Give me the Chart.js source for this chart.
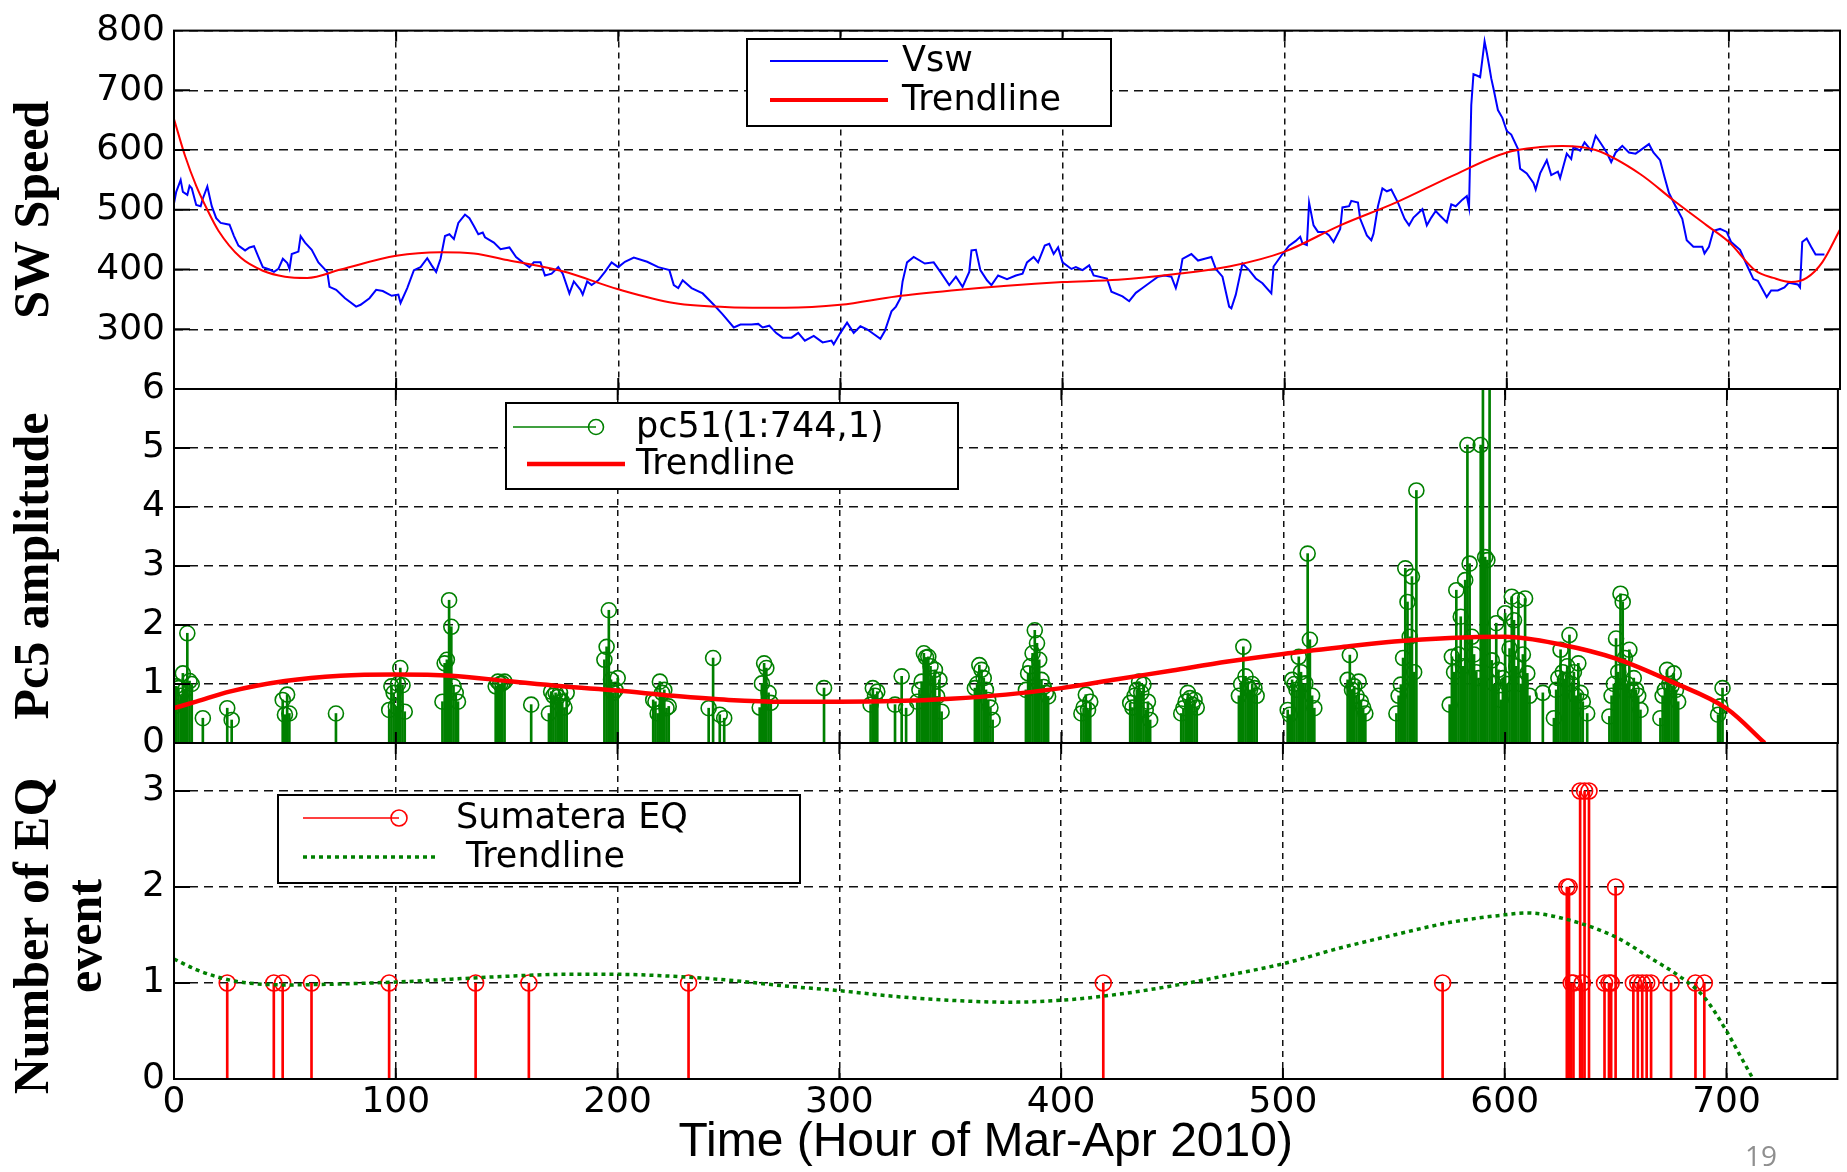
<!DOCTYPE html>
<html>
<head>
<meta charset="utf-8">
<script src="https://cdn.jsdelivr.net/npm/chart.js@4.4.1/dist/chart.umd.min.js"></script>
<style>
html, body { margin: 0; padding: 0; background: #fff; }
#wrap { position: relative; width: 1847px; height: 1172px; overflow: hidden; background: #fff; }
#wrap canvas { position: absolute; left: 0; top: 0; }
#page { position: absolute; left: 1745px; top: 1136px; font: 28px "Open Sans", "DejaVu Sans", sans-serif; color: #8f8f8f; }
</style>
</head>
<body>
<div id="wrap">
  <canvas id="cVsw" width="1847" height="1172"></canvas>
  <canvas id="cPc5" width="1847" height="1172"></canvas>
  <canvas id="cEq" width="1847" height="1172"></canvas>
  <div id="page">19</div>
</div>
<script>
// ---------------- DATA ----------------
const xTicks = [0, 100, 200, 300, 400, 500, 600, 700];
const vswTicks = [300, 400, 500, 600, 700, 800];
const pc5Ticks = [0, 1, 2, 3, 4, 5, 6];
const eqTicks = [0, 1, 2, 3];
const xTitle = 'Time (Hour of Mar-Apr 2010)   ';

// Solar wind speed (hour, km/s)
const vswHour = [
  0,1,3,4,6,7,8,10,12,13, 15,17,19,21,25,27,29,32,34,36, 38,40,43,45,47,49,51,52,53,56,
  57,59,62,65,69,70,73,77,82,84, 88,91,94,98,101,102,105,108,111,114, 116,118,120,122,124,126,128,131,133,135,
  137,139,140,144,147,151,154,157,160,162, 165,167,170,173,175,178,180,183,184,186, 188,191,194,197,200,203,207,213,218,223,
  225,227,229,233,238,243,247,252,255,
  260,263,265,268,271,274,278,281,284,288, 292,296,297,300,303,306,309,312,318,320, 323,325,327,328,330,333,338,342,345,349,
  352,355,358,359,361,363,366,368,371,375, 379,382,384,387,389,392,394,396,398,400, 404,406,409,412,414,420,422,427,430,433,
  436,440,443,446,449,451,453,454,458,461, 464,467,469,472,475,476,478,481,484,487, 490,494,495,499,502,505,
  507,508,510,511,513,515,518,520,522,525, 526,529,530,533,534,537,539,540,542,544, 546,548,551,554,556,558,562,564,566,568,
  570,573,575,577,580,582,583,584,585,587, 588,589,590,591,592,593,594,596,598,600, 602,605,606,609,612,613,615,618,620,623,
  624,627,629,630,633,635,638,640,642,645, 647,649,652,655,658,661,664,666,669,671, 673,676,679,681,684,688,689,691,693,696,
  699,701,705,708,711,713,717,719,722,725, 727,731,732,733,735,737,739,742,743
];
const vswSpeed = [
  511,530,550,530,525,540,536,508,506,519, 539,506,486,478,475,456,440,432,437,439, 421,404,400,396,401,418,411,401,426,430,
  456,445,433,412,396,371,366,352,338,341, 352,366,364,356,358,344,369,399,404,419, 407,396,418,456,459,451,478,492,486,473,
  459,462,454,445,434,437,421,412,404,412, 412,390,393,404,393,360,380,366,358,380, 374,382,396,412,404,413,420,413,404,399,
  374,369,382,369,360,341,325,303,308,
  308,309,303,306,294,286,286,294,281,289, 278,281,275,294,311,294,305,300,284,297, 330,338,352,380,412,421,410,412,396,374,
  388,371,396,432,433,399,382,374,390,384, 390,393,412,421,412,440,443,426,437,412, 401,404,399,407,390,385,363,355,347,361,
  369,380,388,390,388,369,396,418,426,415, 418,421,401,388,338,335,358,410,399,385, 377,360,405,426,440,448,
  455,444,441,512,474,463,463,457,446,468, 504,506,515,512,485,457,449,460,506,536, 531,534,512,485,474,487,501,474,487,498,
  490,479,509,506,517,523,504,675,727,724, 722,752,782,763,742,720,703,667,654,632, 626,602,569,561,545,534,561,583,558,564,
  553,594,585,605,599,613,599,624,613,596, 580,596,607,596,594,602,610,596,583,555, 528,506,485,449,438,438,427,438,465,468,
  463,446,433,408,384,381,354,365,365,370, 378,375,370,446,452,438,425,425,425
];
const vswTrendHour = [0,5,10,15,20,30,40,50,60,75,100,120,135,150,175,200,225,250,275,300,325,350,375,400,425,450,475,500,525,550,575,600,615,625,640,660,675,690,700,712,720,728,735,742,750];
const vswTrend     = [652,590,540,500,465,420,398,388,386,400,423,429,427,416,397,367,344,337,336,341,355,365,373,379,383,392,405,430,474,512,556,596,605,607,600,560,516,474,446,398,386,379,386,412,467];

// Pc5 amplitude (hour, amplitude)
const pc5Hour = [
  0,1,2,3,4,5,6,7,8,13,24,26,
  49,50,51,52,73,
  97,98,99,100,101,102,103,104,
  121,122,123,124,125,126,127,128,
  145,146,147,148,149,161,
  169,170,171,172,173,174,175,176,177,
  194,195,196,197,198,199,200,
  216,217,218,219,220,221,222,223,
  241,243,246,248,
  264,265,266,267,268,269,293,
  314,315,316,317,325,328,330,
  335,336,337,338,339,340,341,342,343,344,345,346,
  361,362,363,364,365,366,367,368,369,
  384,385,386,387,388,389,390,391,392,393,394,
  409,410,411,412,413,
  431,432,433,434,435,436,437,438,439,440,
  454,455,456,457,458,459,460,461,
  480,481,482,483,484,485,486,487,488,
  502,503,504,505,506,507,508,509,510,511,512,513,514,
  529,530,531,532,533,534,535,536,537,
  551,552,553,554,555,556,557,558,559,560,
  575,576,577,578,579,580,581,582,583,584,585,586,587,588,589,590,591,592,593,594,595,596,597,598,599,600,601,602,603,604,605,606,607,608,609,610,611,
  617,622,623,624,625,626,627,628,629,630,631,632,633,634,635,637,
  647,648,649,650,651,652,653,654,655,656,657,658,659,660,661,
  670,671,672,673,674,675,676,677,678,
  696,697,698
];
const pc5Amp = [
  0.62,0.96,0.93,0.8,1.18,0.9,1.86,1.05,1.0,0.42,0.59,0.39,
  0.73,0.48,0.82,0.5,0.5,
  0.56,0.96,0.85,0.62,1.0,1.27,0.98,0.53,
  0.7,1.35,1.41,2.42,1.97,0.96,0.85,0.7,
  0.96,1.04,1.0,1.01,1.04,0.65,
  0.5,0.87,0.8,0.85,0.78,0.85,0.7,0.6,0.85,
  1.41,1.63,2.25,1.07,0.85,0.9,1.1,
  0.73,0.7,0.5,1.04,0.85,0.9,0.59,0.62,
  0.59,1.44,0.48,0.42,
  0.6,1.01,1.35,1.27,0.85,0.68,0.93,
  0.65,0.93,0.8,0.87,0.65,1.13,0.59,
  0.7,0.9,1.04,1.52,1.45,1.46,1.3,1.1,1.24,0.79,1.07,0.53,
  0.93,1.0,1.32,1.24,1.1,0.9,0.73,0.6,0.39,
  0.9,1.18,1.3,1.52,1.91,1.69,1.41,1.07,0.95,0.85,0.79,
  0.5,0.6,0.82,0.56,0.7,
  0.68,0.6,0.8,0.9,1.04,0.85,0.99,0.56,0.7,0.39,
  0.5,0.59,0.7,0.85,0.76,0.65,0.73,0.6,
  0.8,1.0,1.63,1.13,0.96,0.9,1.0,0.93,0.8,
  0.56,0.48,1.07,1.0,0.9,1.46,1.2,1.0,1.01,3.21,1.75,0.8,0.59,
  1.07,1.49,0.9,0.96,0.8,1.04,0.7,0.6,0.5,
  0.5,0.8,0.99,1.44,2.96,2.39,1.8,2.82,1.2,4.28,
  0.65,1.46,1.2,2.59,1.5,2.14,1.3,2.76,5.05,3.04,1.8,1.5,1.2,1.1,5.05,6.5,3.15,3.1,6.5,1.4,1.0,2.03,1.24,0.73,1.1,2.2,1.0,1.6,2.48,2.08,1.3,2.42,1.0,1.5,2.45,1.18,0.8,
  0.85,0.42,0.9,1.1,1.58,1.2,1.07,1.3,1.83,1.0,1.2,0.8,1.35,0.85,0.7,0.5,
  0.45,0.8,1.0,1.77,1.2,2.53,2.39,1.44,1.0,1.58,0.9,1.1,0.9,0.8,0.56,
  0.42,0.8,0.9,1.24,1.0,0.96,1.18,0.9,0.7,
  0.48,0.62,0.93
];
const pc5TrendHour = [0,10,25,50,75,100,125,150,175,200,225,250,275,300,325,350,375,400,425,450,475,500,525,550,575,600,625,650,675,700,717];
const pc5Trend     = [0.59,0.7,0.87,1.05,1.14,1.16,1.14,1.05,0.96,0.89,0.8,0.73,0.7,0.7,0.71,0.75,0.82,0.93,1.08,1.23,1.38,1.51,1.62,1.72,1.78,1.8,1.67,1.43,1.04,0.58,0];

// Sumatera earthquakes (hour, number of events)
const eqHour  = [24,45,49,62,97,136,160,232,419,572,628,629,630,631,634,635,636,638,645,647,648,650,658,660,662,664,666,675,686,690];
const eqCount = [1,1,1,1,1,1,1,1,1,1,2,2,1,1,3,1,3,3,1,1,1,2,1,1,1,1,1,1,1,1];
const eqTrendHour = [0,10,20,30,50,75,100,125,150,175,200,225,250,275,300,325,350,375,400,425,450,475,500,525,550,575,600,610,625,650,665,680,690,700,706,712];
const eqTrend     = [1.25,1.14,1.06,1.01,0.98,0.99,1.01,1.04,1.07,1.09,1.09,1.07,1.03,0.97,0.92,0.86,0.82,0.8,0.82,0.88,0.97,1.08,1.2,1.36,1.5,1.63,1.71,1.73,1.68,1.48,1.27,1.05,0.85,0.5,0.25,0];

// ---------------- HELPERS ----------------
const pts = (xs, ys) => xs.map((x, i) => ({ x: x, y: ys[i] }));
const BLUE = 'rgb(0,0,255)', RED = 'rgb(255,0,0)', GREEN = 'rgb(0,128,0)';
const TICK_FONT = { family: '"DejaVu Sans", sans-serif', size: 36 };
const LEGEND_FONT = '35px "DejaVu Sans", sans-serif';

function makeX(showLabels) {
  return {
    type: 'linear', min: 0, max: 750, offset: false,
    afterBuildTicks: s => { s.ticks = xTicks.map(v => ({ value: v })); },
    ticks: { display: showLabels, autoSkip: false, maxRotation: 0, padding: 2, color: '#000', font: TICK_FONT },
    grid: { color: '#111', lineWidth: 1.5, drawTicks: false, offset: false },
    border: { display: false, dash: [6, 5] },
    title: showLabels
      ? { display: true, text: xTitle, color: '#000', font: { family: '"Liberation Sans", Arial, sans-serif', size: 48, lineHeight: 1.2 }, padding: { top: 0, bottom: 0 } }
      : { display: false },
    afterFit: s => { s.height = showLabels ? 93 : 0; }
  };
}
function makeY(min, max, ticks, title, padTop, lh) {
  return {
    type: 'linear', min: min, max: max,
    afterBuildTicks: s => { s.ticks = ticks.map(v => ({ value: v })); },
    ticks: { padding: 9, color: '#000', font: TICK_FONT },
    grid: { color: '#111', lineWidth: 1.5, drawTicks: false },
    border: { display: false, dash: [9, 6] },
    title: { display: true, text: title, color: '#000',
      font: { family: '"Liberation Serif", "Times New Roman", serif', size: 50, weight: 'bold', lineHeight: lh },
      padding: { top: padTop, bottom: 0 } },
    afterFit: s => { s.width = 174; }
  };
}
function framePlugin(id) {
  return {
    id: id,
    afterDatasetsDraw(chart) {
      const { ctx, chartArea: a, scales } = chart;
      const x = scales.x, y = scales.y;
      ctx.save();
      ctx.setLineDash([]);
      ctx.strokeStyle = '#000';
      ctx.lineWidth = 2;
      ctx.beginPath();
      x.ticks.forEach(t => {
        const p = x.getPixelForValue(t.value);
        if (p <= a.left + 2 || p >= a.right - 2) return;
        ctx.moveTo(p, a.top); ctx.lineTo(p, a.top + 11);
        ctx.moveTo(p, a.bottom); ctx.lineTo(p, a.bottom - 11);
      });
      y.ticks.forEach(t => {
        const p = y.getPixelForValue(t.value);
        if (p <= a.top + 2 || p >= a.bottom - 2) return;
        ctx.moveTo(a.left, p); ctx.lineTo(a.left + 16, p);
        ctx.moveTo(a.right, p); ctx.lineTo(a.right - 16, p);
      });
      ctx.stroke();
      ctx.strokeRect(a.left, a.top, a.right - a.left, a.bottom - a.top);
      ctx.restore();
    }
  };
}
function legendPlugin(id, spec) {
  return {
    id: id,
    afterDraw(chart) {
      const ctx = chart.ctx;
      const [bx, by, bw, bh] = spec.box;
      ctx.save();
      ctx.fillStyle = '#fff';
      ctx.fillRect(bx, by, bw, bh);
      ctx.setLineDash([]);
      ctx.strokeStyle = '#000';
      ctx.lineWidth = 2;
      ctx.strokeRect(bx, by, bw, bh);
      spec.items.forEach(it => {
        const ds = chart.data.datasets[it.ds];
        ctx.strokeStyle = ds.borderColor;
        ctx.lineWidth = it.lw;
        ctx.setLineDash(it.dash || []);
        ctx.beginPath();
        ctx.moveTo(it.x0, it.y); ctx.lineTo(it.x1, it.y);
        ctx.stroke();
        if (it.marker) {
          ctx.setLineDash([]);
          ctx.lineWidth = 1.6;
          ctx.beginPath();
          ctx.arc(it.x1, it.y, it.marker, 0, Math.PI * 2);
          ctx.stroke();
        }
        ctx.fillStyle = '#000';
        ctx.font = LEGEND_FONT;
        ctx.textBaseline = 'middle';
        ctx.textAlign = 'left';
        ctx.fillText(ds.label, it.tx, it.y + 1);
      });
      ctx.restore();
    }
  };
}
function baseOptions(pad, x, y) {
  return {
    responsive: false, animation: false, devicePixelRatio: 1, events: [],
    layout: { padding: pad },
    plugins: { legend: { display: false }, tooltip: { enabled: false } },
    scales: { x: x, y: y }
  };
}

// ---------------- PANEL 1 : SW speed ----------------
new Chart(document.getElementById('cVsw'), {
  type: 'line',
  data: {
    datasets: [
      { label: 'Vsw', data: pts(vswHour, vswSpeed), borderColor: BLUE, borderWidth: 2, pointRadius: 0, tension: 0, order: 1, clip: 0 },
      { label: 'Trendline', data: pts(vswTrendHour, vswTrend), borderColor: RED, borderWidth: 2, pointRadius: 0, cubicInterpolationMode: 'monotone', order: 0, clip: 0 }
    ]
  },
  options: baseOptions({ left: 0, right: 7, top: 20, bottom: 783 }, makeX(false), makeY(200, 800, vswTicks, 'SW Speed', 5, 1.2)),
  plugins: [framePlugin('frame1'), legendPlugin('legend1', {
    box: [747, 39, 364, 87],
    items: [
      { ds: 0, x0: 770, x1: 888, y: 61, lw: 2, tx: 902 },
      { ds: 1, x0: 770, x1: 888, y: 100, lw: 4, tx: 902 }
    ]
  })]
});

// ---------------- PANEL 2 : Pc5 amplitude ----------------
new Chart(document.getElementById('cPc5'), {
  type: 'bar',
  data: {
    datasets: [
      { type: 'line', label: 'Trendline', data: pts(pc5TrendHour, pc5Trend), borderColor: RED, borderWidth: 4.5, pointRadius: 0, cubicInterpolationMode: 'monotone', order: 0, clip: 0 },
      { type: 'line', label: 'pc51(1:744,1)', data: pts(pc5Hour, pc5Amp), showLine: false, borderColor: GREEN, pointStyle: 'circle', pointRadius: 7.5, pointBorderWidth: 1.6, pointBorderColor: GREEN, pointBackgroundColor: 'rgba(0,0,0,0)', order: 1, clip: 0 },
      { type: 'bar', label: 'pc51 stems', data: pts(pc5Hour, pc5Amp), backgroundColor: GREEN, borderWidth: 0, barThickness: 2, order: 2, clip: 0 }
    ]
  },
  options: baseOptions({ left: 0, right: 7, top: 389, bottom: 429 }, makeX(false), makeY(0, 6, pc5Ticks, 'Pc5 amplitude', 5, 1.2)),
  plugins: [framePlugin('frame2'), legendPlugin('legend2', {
    box: [506, 403, 452, 86],
    items: [
      { ds: 1, x0: 513, x1: 596, y: 427, lw: 1.6, marker: 7.5, tx: 636 },
      { ds: 0, x0: 527, x1: 625, y: 464, lw: 4.5, tx: 636 }
    ]
  })]
});

// ---------------- PANEL 3 : EQ events ----------------
new Chart(document.getElementById('cEq'), {
  type: 'bar',
  data: {
    datasets: [
      { type: 'line', label: 'Trendline', data: pts(eqTrendHour, eqTrend), borderColor: GREEN, borderWidth: 3.5, borderDash: [4, 4], pointRadius: 0, cubicInterpolationMode: 'monotone', order: 0, clip: 0 },
      { type: 'line', label: 'Sumatera EQ', data: pts(eqHour, eqCount), showLine: false, borderColor: RED, pointStyle: 'circle', pointRadius: 8, pointBorderWidth: 1.6, pointBorderColor: RED, pointBackgroundColor: 'rgba(0,0,0,0)', order: 1, clip: 0 },
      { type: 'bar', label: 'Sumatera EQ stems', data: pts(eqHour, eqCount), backgroundColor: RED, borderWidth: 0, barThickness: 2, order: 2, clip: 0 }
    ]
  },
  options: baseOptions({ left: 0, right: 7, top: 743, bottom: 0 }, makeX(true), makeY(0, 3.5, eqTicks, ['Number of EQ    ', 'event    '], 8.5, 1.06)),
  plugins: [framePlugin('frame3'), legendPlugin('legend3', {
    box: [278, 795, 522, 88],
    items: [
      { ds: 1, x0: 303, x1: 399, y: 818, lw: 1.6, marker: 8, tx: 456 },
      { ds: 0, x0: 303, x1: 435, y: 857, lw: 3.5, dash: [4, 4], tx: 466 }
    ]
  })]
});
</script>
</body>
</html>
